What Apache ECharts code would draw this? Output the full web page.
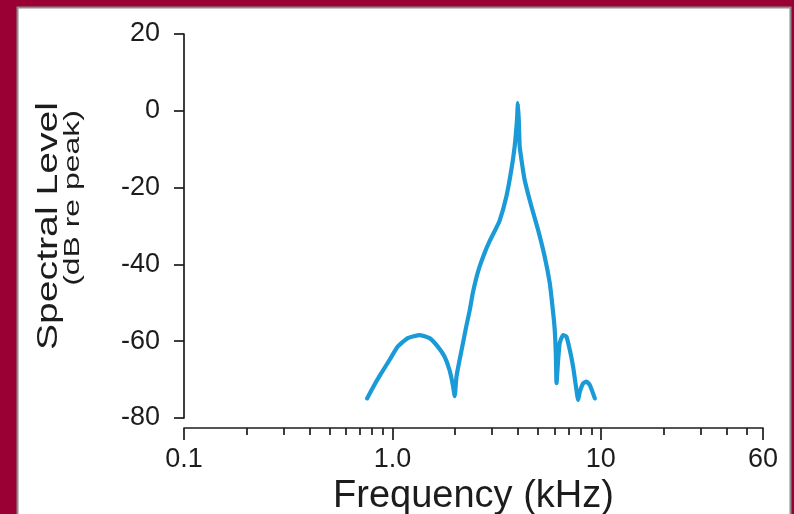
<!DOCTYPE html>
<html>
<head>
<meta charset="utf-8">
<script src="https://cdn.jsdelivr.net/npm/echarts@6/dist/echarts.min.js"></script>
<style>
  html, body { margin: 0; padding: 0; background: #9a0033; }
  #chart { width: 794px; height: 514px; }
</style>
</head>
<body>
<div id="chart"></div>
<script>
// spectrum (frequency in kHz, level in dB re peak)
const freqKHz = [
  0.756, 0.819, 0.883, 0.968, 1.06, 1.185, 1.349, 1.507, 1.651, 1.778, 1.879, 1.95, 1.99,
  2.03, 2.10, 2.18, 2.26, 2.35, 2.43, 2.53, 2.62, 2.77, 2.93, 3.09, 3.27, 3.52, 3.72, 3.86, 3.96, 4.0,
  4.04, 4.08, 4.21, 4.31, 4.65, 5.0, 5.38, 5.69, 5.85, 6.0, 6.08, 6.13,
  6.24, 6.35, 6.59, 6.84, 7.10, 7.36, 7.64, 7.78, 7.93, 8.22, 8.53, 8.85, 9.18, 9.36,
];
const levelDb = [
  -74.9, -71.4, -68.4, -64.9, -61.4, -59.2, -58.4, -59.2, -61.4, -64.0, -67.5, -71.4, -74.3,
  -69.2, -64.9, -60.5, -56.2, -51.9, -47.5, -43.4, -40.6, -37.0, -33.9, -31.4, -28.6, -22.4, -15.4, -9.3, -2.4, 2,
  -2.4, -9.3, -14.6, -18.0, -25.0, -31.0, -38.0, -44.9, -50.5, -56.5, -63.0, -70.9,
  -64.9, -60.5, -58.4, -58.8, -62.3, -66.6, -72.7, -75.3, -73.2, -71.0, -70.5, -71.4, -73.6, -74.9,
];

const xMajorTicks = [0.1, 1, 10, 60];
const xMajorLabels = ["0.1", "1.0", "10", "60"];
const xMinorTicks = [0.2, 0.3, 0.4, 0.5, 0.6, 0.7, 0.8, 0.9, 2, 3, 4, 5, 6, 7, 8, 9, 20, 30, 40, 50];
const yMin = -80;
const yMax = 20;
const yStep = 20;

const chart = echarts.init(document.getElementById("chart"));
const fontFamily = "'Liberation Sans', Arial, Helvetica, sans-serif";
const ink = "#1c1c1c";

chart.setOption({
  backgroundColor: "#9a0033",
  animation: false,
  graphic: [
    {
      type: "rect",
      z: -10,
      shape: { x: 17.5, y: 7.5, width: 773, height: 520 },
      style: { fill: "#ffffff", stroke: "#8c8c8c", lineWidth: 2 },
    },
    {
      type: "text",
      x: 49,
      y: 226,
      rotation: Math.PI / 2,
      scaleX: 1.35,
      style: {
        text: "Spectral Level",
        font: `29px ${fontFamily}`,
        fill: ink,
        align: "center",
        verticalAlign: "middle",
      },
    },
    {
      type: "text",
      x: 73,
      y: 198,
      rotation: Math.PI / 2,
      scaleX: 1.45,
      style: {
        text: "(dB re peak)",
        font: `22px ${fontFamily}`,
        fill: ink,
        align: "center",
        verticalAlign: "middle",
      },
    },
  ],
  grid: { left: 184, right: 31, top: 34, bottom: 96, containLabel: false, outerBoundsMode: "none" },
  xAxis: [
    {
      type: "log",
      logBase: 10,
      min: 0.1,
      max: 60,
      position: "bottom",
      offset: 10,
      name: "Frequency (kHz)",
      nameLocation: "middle",
      nameGap: 39,
      nameTextStyle: { fontFamily, fontSize: 38, color: ink },
      axisLine: { show: true, onZero: false, lineStyle: { color: ink, width: 1.7 } },
      axisTick: {
        show: true,
        length: 12,
        customValues: xMajorTicks,
        lineStyle: { color: ink, width: 1.7 },
      },
      axisLabel: {
        customValues: xMajorTicks,
        margin: 18,
        fontFamily,
        fontSize: 27,
        color: ink,
        formatter: (value) => xMajorLabels[xMajorTicks.findIndex((t) => Math.abs(t - value) < 1e-6)] ?? "",
      },
      splitLine: { show: false },
      minorTick: { show: false },
    },
    {
      type: "log",
      logBase: 10,
      min: 0.1,
      max: 60,
      position: "bottom",
      offset: 10,
      axisLine: { show: false, onZero: false },
      axisTick: {
        show: true,
        length: 7,
        customValues: xMinorTicks,
        lineStyle: { color: ink, width: 1.7 },
      },
      axisLabel: { show: false },
      splitLine: { show: false },
    },
  ],
  yAxis: {
    type: "value",
    min: yMin,
    max: yMax,
    interval: yStep,
    axisLine: { show: true, onZero: false, lineStyle: { color: ink, width: 1.7 } },
    axisTick: { show: true, length: 10, lineStyle: { color: ink, width: 1.7 } },
    axisLabel: { margin: 24, fontFamily, fontSize: 27, color: ink },
    splitLine: { show: false },
  },
  series: [
    {
      type: "line",
      xAxisIndex: 0,
      data: freqKHz.map((f, i) => [f, levelDb[i]]),
      showSymbol: false,
      smooth: 0.15,
      lineStyle: { color: "#1b9ad8", width: 4.2, join: "round", cap: "round" },
    },
  ],
});
</script>
</body>
</html>
